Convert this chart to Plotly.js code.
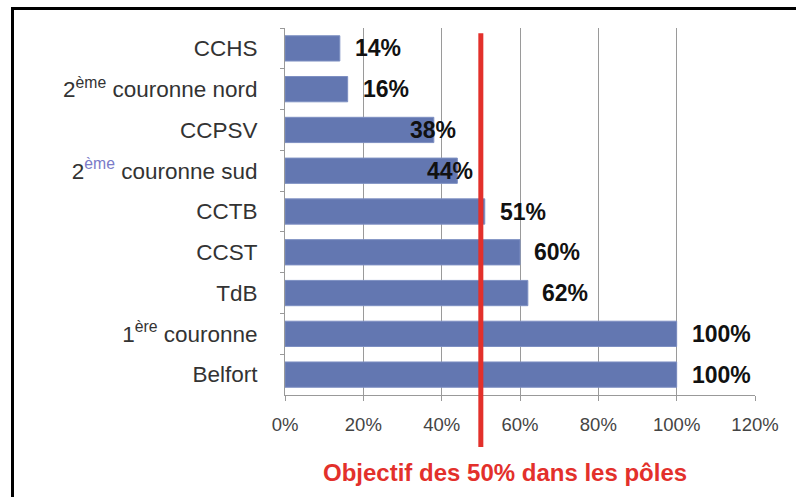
<!DOCTYPE html>
<html>
<head>
<meta charset="utf-8">
<script src="https://cdn.plot.ly/plotly-3.0.1.min.js"></script>
<style>
  body { margin: 0; background: #fff; }
  #chart { width: 796px; height: 497px; }
  #frame { position: absolute; left: 11px; top: 7px; width: 790px; height: 500px;
           border-left: 3px solid #000; border-top: 3px solid #000; pointer-events: none; }
</style>
</head>
<body>
<div id="chart"></div>
<div id="frame"></div>
<script>
// categories, top to bottom
const categories = [
  'CCHS',
  '2<sup>ème</sup> couronne nord',
  'CCPSV',
  '2<sup><span style="color:#7a7ac8">ème</span></sup> couronne sud',
  'CCTB',
  'CCST',
  'TdB',
  '1<sup>ère</sup> couronne',
  'Belfort'
];
const values = [14, 16, 38, 44, 51, 60, 62, 100, 100];
const labels = ['14%', '16%', '38%', '44%', '51%', '60%', '62%', '100%', '100%'];
const labelShift = [13, 13, -26, -32, 13, 12, 12, 13, 13];
const objectif = 50;

const trace = {
  type: 'bar',
  orientation: 'h',
  y: categories,
  x: values,
  marker: { color: '#6377b1', line: { color: '#7d8fc2', width: 1 } },
  hoverinfo: 'none'
};

const annotations = values.map((v, i) => ({
  x: v, y: categories[i], xref: 'x', yref: 'y',
  text: '<b>' + labels[i] + '</b>',
  showarrow: false, xanchor: 'left', yanchor: 'middle',
  xshift: labelShift[i],
  font: { family: 'Liberation Sans, Arial, sans-serif', size: 23, color: '#111' }
}));

annotations.push({
  x: 0.468, y: -0.21, xref: 'paper', yref: 'paper',
  text: '<b>Objectif des 50% dans les pôles</b>',
  showarrow: false, xanchor: 'center', yanchor: 'middle',
  font: { family: 'Liberation Sans, Arial, sans-serif', size: 24, color: '#e3302b' }
});

const layout = {
  width: 796, height: 497,
  margin: { l: 285, r: 41, t: 28, b: 102 },
  paper_bgcolor: '#fff', plot_bgcolor: '#fff',
  showlegend: false,
  bargap: 0.38,
  font: { family: 'Liberation Sans, Arial, sans-serif' },
  xaxis: {
    range: [0, 120], dtick: 20, ticksuffix: '%',
    showgrid: true, gridcolor: '#9a9a9a', gridwidth: 1,
    zeroline: false, showline: true, linecolor: '#999', linewidth: 1,
    ticks: 'outside', ticklen: 5, tickcolor: '#999',
    ticklabelstandoff: 8,
    tickfont: { size: 18.5, color: '#444' }
  },
  yaxis: {
    autorange: 'reversed', type: 'category',
    showline: true, linecolor: '#999', linewidth: 1,
    ticks: 'outside', ticklen: 4, tickcolor: '#999', tickson: 'boundaries',
    showgrid: false, ticklabelstandoff: 22,
    tickfont: { size: 22.5, color: '#333' }
  },
  shapes: [{
    type: 'line', xref: 'x', yref: 'paper',
    x0: objectif, x1: objectif, y0: 0.986, y1: -0.142,
    line: { color: '#e3302b', width: 5 }
  }],
  annotations: annotations
};

Plotly.newPlot('chart', [trace], layout, { displayModeBar: false, staticPlot: true });
</script>
</body>
</html>
